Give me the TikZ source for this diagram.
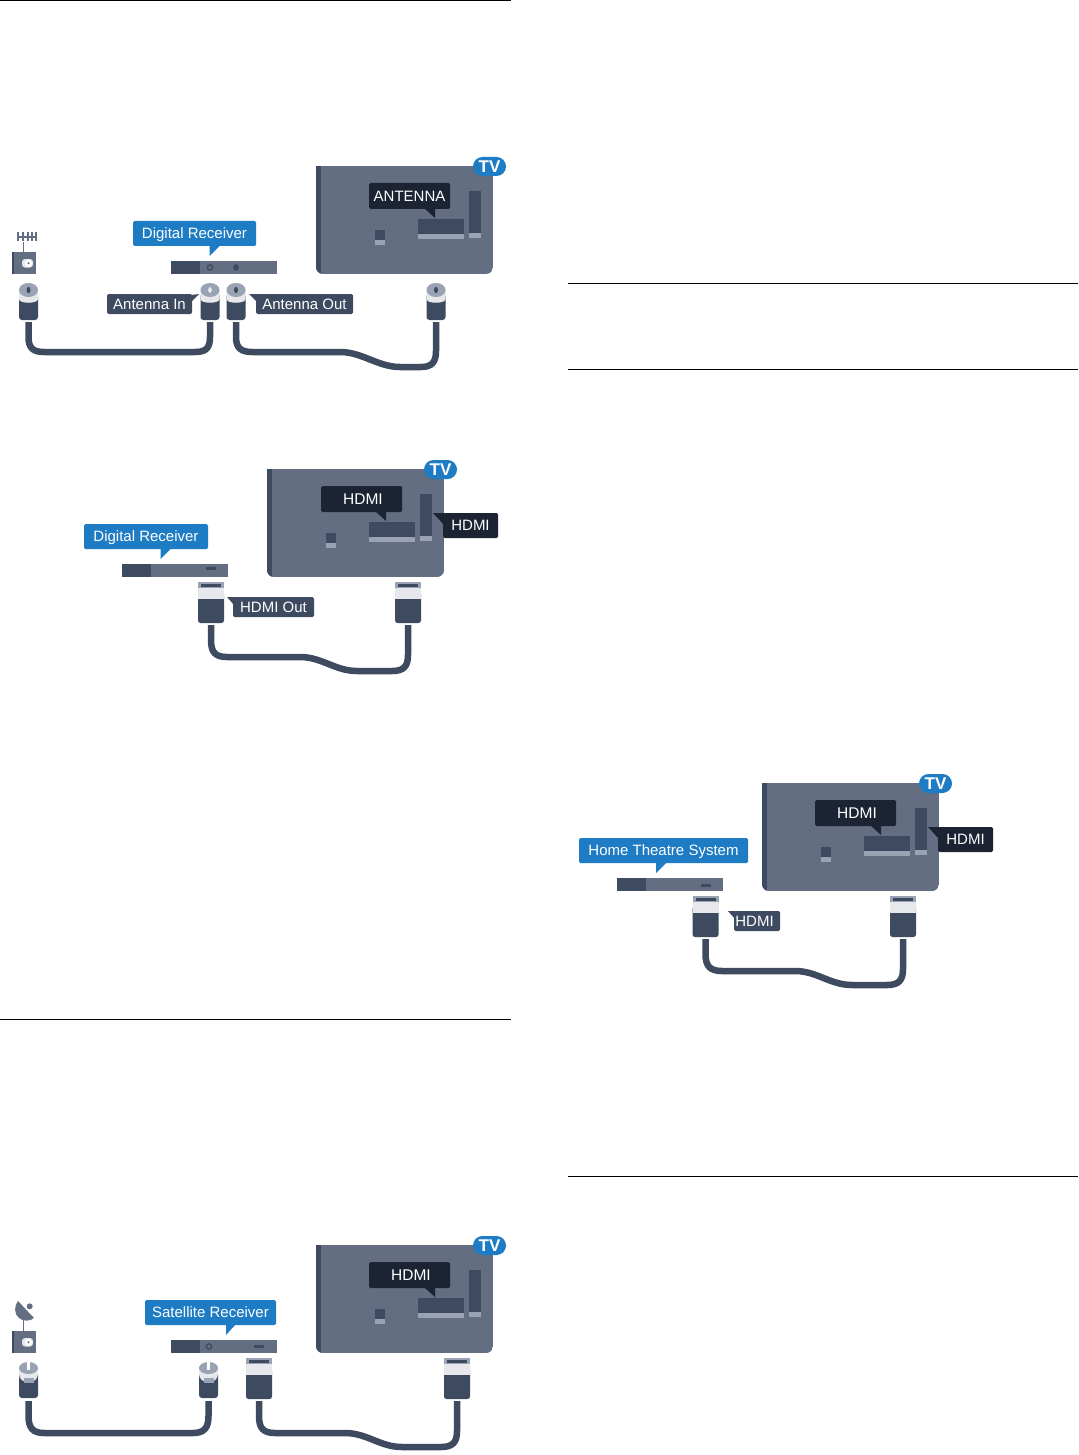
\documentclass[tikz,border=0pt]{standalone}
\usepackage{fontspec}
\setmainfont{Liberation Sans}
\definecolor{tvbody}{HTML}{636E82}
\definecolor{navy}{HTML}{3D4A5F}
\definecolor{ink}{HTML}{1C2433}
\definecolor{bluelab}{HTML}{1E7CC5}
\definecolor{pale}{HTML}{9AA3B3}
\definecolor{band}{HTML}{E6E8EC}
\tikzset{
  every node/.style={inner sep=0pt,outer sep=0pt,text=white,font=\fontsize{15}{18}\selectfont},
  lblbase/.style={rectangle,rounded corners=1.5pt,anchor=center,text height=12.6pt,text depth=2pt},
  cable/.style={draw=navy,line width=6.5pt,line cap=butt},
  rule/.style={draw=black,line width=0.9pt},
}
% label box: name, x1, y1, x2, y2, colour, text
\newcommand{\labelbox}[7]{\node[lblbase,fill=#6,minimum width=#4pt-#2pt,minimum height=#5pt-#3pt] (#1) at ({(#2+#4)/2},{(#3+#5)/2}) {#7};}
\newcommand{\tophdmi}{\hspace*{3pt}\fontsize{15.5}{18}\selectfont HDMI}
% TV at offset
\newcommand{\tvset}[3]{\begin{scope}[shift={(#2,#3)}]
  \begin{scope}
  \clip (316,166) -- (493,166) [rounded corners=7pt] -- (493,274) -- (316,274) [sharp corners] -- cycle;
  \fill[tvbody] (316,166) rectangle (493,274);
  \fill[navy] (316,166) rectangle (321,274);
  \end{scope}
  \fill[navy] (418,219) rectangle (464,234);
  \fill[pale] (418,234) rectangle (464,239);
  \fill[navy] (469,191) rectangle (481,233);
  \fill[pale] (469,233) rectangle (481,238);
  \fill[navy] (375,230) rectangle (385,240);
  \fill[pale] (375,240) rectangle (385,245);
  \node[rectangle,fill=bluelab,rounded corners=9.5pt,minimum width=33pt,minimum height=19pt,font=\fontsize{17}{18}\selectfont\bfseries] (#1tv) at (489.5,166.5) {TV};
\end{scope}}
\newcommand{\portcallout}[2]{\begin{scope}[shift={(#1,#2)}]
  \fill[ink] (424,208) -- (435,218) -- (435,208) -- cycle;
\end{scope}}
% coax connector, centre x y-top
\newcommand{\coax}[3]{\begin{scope}[shift={(#2,#3)}]
  \fill[navy,rounded corners=3pt] (-9.5,10) rectangle (9.5,37);
  \fill[band] (-9.5,7) -- (-9.5,16) .. controls (-9.5,21) and (9.5,21) .. (9.5,16) -- (9.5,7) -- cycle;
  \fill[pale] (0,7) ellipse[x radius=9.5,y radius=7];
  \fill[navy] (0,7) ellipse[x radius=2,y radius=3.2];
  \coordinate (#1) at (0,39);
\end{scope}}
\newcommand{\coaxwhite}[3]{\coax{#1}{#2}{#3}\fill[band] (#2,#3+7) ellipse[x radius=2,y radius=3.2];}
% satellite F connector
\newcommand{\fconn}[3]{\begin{scope}[shift={(#2,#3)}]
  \fill[navy,rounded corners=3pt] (-9.5,8) rectangle (9.5,35);
  \fill[band] (-9.5,6) -- (-9.5,11) .. controls (-9.5,22) and (9.5,22) .. (9.5,11) -- (9.5,6) -- cycle;
  \fill[pale] (0,5) ellipse[x radius=9.5,y radius=6];
  \fill[pale] (-5,15) rectangle (5,20);
  \fill[white] (-1.2,-1.5) rectangle (1.2,7);
  \coordinate (#1) at (0,38);
\end{scope}}
% HDMI connector, centre x, y-top
\newcommand{\hdmi}[3]{\begin{scope}[shift={(#2,#3)}]
  \fill[navy,rounded corners=2.5pt] (-13,10) rectangle (13,41);
  \fill[band] (-13,6) rectangle (13,17);
  \fill[pale] (-13,0) rectangle (13,6);
  \fill[navy] (-10,1.7) rectangle (10,4.6);
  \coordinate (#1) at (0,43);
\end{scope}}
% receiver bar
\newcommand{\rbar}[3]{\begin{scope}[shift={(#2,#3)}]
  \fill[tvbody] (0,0) rectangle (105.5,13);
  \fill[navy] (0,0) rectangle (28.5,13);
  \coordinate (#1) at (0,0);
\end{scope}}
\newcommand{\slotmark}[2]{\fill[navy] (#1-5,#2-1.5) rectangle (#1+5,#2+1.5);}
\newcommand{\ringmark}[2]{\draw[navy,line width=1.3pt] (#1,#2) circle[radius=2.7];}
% wall socket
\newcommand{\socket}[2]{\begin{scope}[shift={(#1,#2)}]
  \fill[tvbody] (0,0) rectangle (24.5,22);
  \fill[navy] (0,0) rectangle (2,22);
  \fill[band,rounded corners=3pt] (10.5,7) rectangle (21.5,15.5);
  \fill[white] (17,11.2) circle[radius=3.6];
  \fill[tvbody] (17,11.2) circle[radius=1.2];
\end{scope}}
\begin{document}
\begin{tikzpicture}[x=1pt,y=-1pt]
\useasboundingbox (0,0) rectangle (1078,1455);
\fill[white] (0,0) rectangle (1078,1455);
% rules
\draw[rule] (0,0.5) -- (511,0.5);
\draw[rule,line width=0.6pt] (0,1019.5) -- (511,1019.5);
\draw[rule] (568,283) -- (1078,283);
\draw[rule,line width=0.6pt] (568,369.5) -- (1078,369.5);
\draw[rule,line width=0.6pt] (568,1176.5) -- (1078,1176.5);

% ===== Diagram 1 =====
\tvset{a}{0}{0}
\labelbox{antA}{369}{183}{450}{209}{ink}{ANTENNA}
\portcallout{0}{0}
\socket{11.5}{252}
\draw[tvbody,line width=1pt] (23,242) -- (23,252);
\draw[tvbody,line width=1.2pt] (17,237) -- (36,237);
\foreach \tx in {18,23,28,32,36} \draw[tvbody,line width=1.2pt] (\tx,232.5) -- (\tx,241.5);
\rbar{ra}{171}{261}
\ringmark{210}{267.5}
\fill[navy] (236,267.5) ellipse[x radius=2.8,y radius=3.3];
\fill[bluelab] (209.5,245) -- (209.5,256) -- (220.5,245) -- cycle;
\labelbox{drA}{133}{221}{256}{246}{bluelab}{Digital Receiver}
\coax{ca}{28.5}{283}
\coaxwhite{cb}{210}{283}
\coax{cc}{236}{283}
\coax{cd}{436}{283}
\draw[cable] (ca) -- (28.5,337) .. controls (28.5,348) and (33,352) .. (44,352) -- (195,352) .. controls (206,352) and (210,348) .. (210,337) -- (cb);
\draw[cable] (cc) -- (236,337) .. controls (236,348) and (241,352) .. (252,352) -- (340,352) .. controls (362,352) and (378,367) .. (400,367) -- (421,367) .. controls (432,367) and (436,362) .. (436,351) -- (cd);
\fill[navy] (191,295) -- (199,294) -- (191,302) -- cycle;
\labelbox{ainA}{107}{294}{192}{314}{navy}{Antenna In}
\fill[navy] (249,294) -- (257,294) -- (257,302) -- cycle;
\labelbox{aoutA}{256}{294}{353}{314}{navy}{Antenna Out}

% ===== Diagram 2 =====
\tvset{b}{-49}{303}
\labelbox{hdB}{321}{486}{402}{512}{ink}{\tophdmi}
\portcallout{-49}{303}
\fill[ink] (433,513) -- (444,513) -- (444,525) -- cycle;
\labelbox{hdBr}{443}{513}{498}{538}{ink}{HDMI}
\rbar{rb}{122}{564}
\slotmark{210.5}{568.5}
\fill[bluelab] (160.5,548) -- (160.5,559) -- (171.5,548) -- cycle;
\labelbox{drB}{84}{524}{208}{549}{bluelab}{Digital Receiver}
\hdmi{ha}{211}{582}
\hdmi{hb}{408}{582}
\draw[cable] (ha) -- (211,640) .. controls (211,652) and (215,657) .. (227,657) -- (300,657) .. controls (322,657) and (335,671) .. (357,671) -- (392,671) .. controls (404,671) and (408,666) .. (408,655) -- (hb);
\fill[navy] (227,597) -- (234,597) -- (234,605) -- cycle;
\labelbox{hoB}{233}{597}{314}{617}{navy}{HDMI Out}

% ===== Diagram 3 =====
\tvset{c}{0}{1079}
\labelbox{hdC}{369}{1262}{450}{1288}{ink}{\tophdmi}
\portcallout{0}{1079}
\socket{11.5}{1331}
\draw[tvbody,line width=1pt] (23,1318) -- (23,1331);
\fill[tvbody] (18,1301) .. controls (14,1306) and (14,1314) .. (19,1318) .. controls (24,1322) and (30,1321) .. (34,1318) .. controls (28,1312) and (23,1306) .. cycle;
\fill[tvbody] (29.7,1306.3) circle[radius=3];
\rbar{rc}{171}{1340}
\ringmark{209}{1346.5}
\slotmark{259}{1346.5}
\fill[bluelab] (226,1324) -- (226,1335) -- (236,1324) -- cycle;
\labelbox{srC}{145}{1300}{276}{1325}{bluelab}{Satellite Receiver}
\fconn{fa}{28.5}{1363}
\fconn{fb}{208.5}{1363}
\hdmi{hc}{259}{1358}
\hdmi{hd}{457}{1358}
\draw[cable] (fa) -- (28.5,1416) .. controls (28.5,1428) and (33,1433) .. (44,1433) -- (193,1433) .. controls (204,1433) and (208.5,1428) .. (208.5,1416) -- (fb);
\draw[cable] (hc) -- (259,1416) .. controls (259,1428) and (263,1433) .. (275,1433) -- (345,1433) .. controls (367,1433) and (380,1447) .. (402,1447) -- (441,1447) .. controls (453,1447) and (457,1442) .. (457,1431) -- (hd);

% ===== Diagram 4 =====
\tvset{d}{446}{617}
\labelbox{hdD}{815}{800}{896}{826}{ink}{\tophdmi}
\portcallout{446}{617}
\fill[ink] (928,827) -- (939,827) -- (939,839) -- cycle;
\labelbox{hdDr}{938}{827}{993}{852}{ink}{HDMI}
\rbar{rd}{617}{878}
\slotmark{705.5}{885}
\fill[bluelab] (656,862) -- (656,873) -- (667,862) -- cycle;
\labelbox{htD}{579}{838}{748}{863}{bluelab}{Home Theatre System}
\hdmi{he}{705.5}{896}
\hdmi{hf}{903}{896}
\draw[cable] (he) -- (705.5,954) .. controls (705.5,966) and (710,971) .. (722,971) -- (795,971) .. controls (817,971) and (830,985) .. (852,985) -- (887,985) .. controls (899,985) and (903,980) .. (903,969) -- (hf);
\fill[navy] (728,911) -- (735,911) -- (735,919) -- cycle;
\labelbox{hoD}{734}{911}{780}{931}{navy}{\hspace*{-5pt}HDMI}
\end{tikzpicture}
\end{document}
